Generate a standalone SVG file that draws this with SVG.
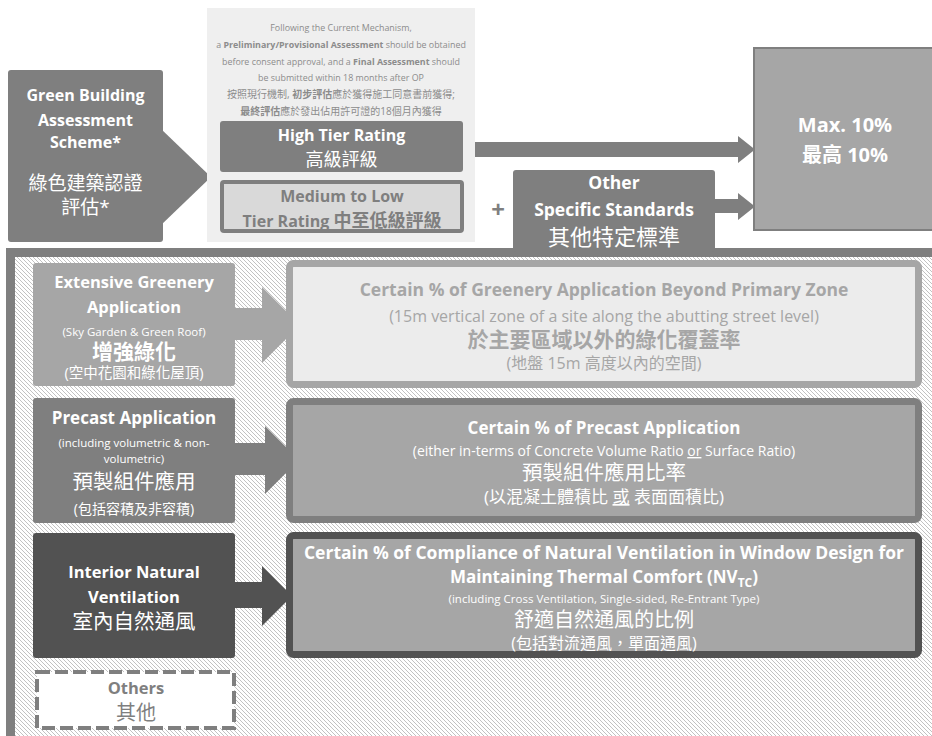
<svg xmlns="http://www.w3.org/2000/svg" width="932" height="736" viewBox="0 0 932 736">
<defs>
<pattern id="hatch" patternUnits="userSpaceOnUse" width="4" height="4">
<rect width="4" height="4" fill="#fff"/>
<path d="M-1,-1 L5,5 M-1,3 L1,5 M3,-1 L5,1" stroke="#c2c2c2" stroke-width="1"/>
</pattern>
<style>
text{font-family:"Open Sans","Noto Sans CJK TC",sans-serif;text-anchor:middle}
.b{font-weight:bold}
.w{fill:#fff}
.g{fill:#7f7f7f}
.lg{fill:#a6a6a6}
.n{fill:#8c8c8c}
.box{fill:#7f7f7f}
.dark{fill:#525252}
.light{fill:#a6a6a6}
</style>
</defs>
<rect width="932" height="736" fill="#fff"/>
<g id="frame">
<rect x="10.5" y="252.5" width="940" height="500" fill="url(#hatch)" stroke="#7f7f7f" stroke-width="9"/>
</g>
<g id="connectors">
<polygon class="box" points="160,128 211,177 160,226"/>
<polygon class="box" points="463,142 738,142 738,136 755,149.5 738,163 738,157 463,157"/>
<polygon class="box" points="712,199 738,199 738,193 755,206.5 738,220 738,213 712,213"/>
<rect class="light" x="232" y="308" width="34" height="32"/>
<polygon class="light" points="262,287 300,325 262,363"/>
<rect class="box" x="230" y="443" width="37" height="32"/>
<polygon class="box" points="265,426 299,460 265,494"/>
<rect class="dark" x="230" y="582" width="35" height="26"/>
<polygon class="dark" points="262,566 292,596 262,626"/>
</g>
<g id="note">
<rect x="207" y="8" width="268" height="234" fill="#efefef"/>
<text class="n" font-size="8.9"><tspan x="341" y="31">Following the Current Mechanism,</tspan><tspan x="341" y="47.5">a <tspan class="b">Preliminary/Provisional Assessment</tspan> should be obtained</tspan><tspan x="341" y="64.5">before consent approval, and a <tspan class="b">Final Assessment</tspan> should</tspan><tspan x="341" y="81">be submitted within 18 months after OP</tspan></text>
<text class="n" font-size="10"><tspan x="341" y="97.5">按照現行機制, <tspan class="b">初步評估</tspan>應於獲得施工同意書前獲得;</tspan><tspan x="341" y="115"><tspan class="b">最終評估</tspan>應於發出佔用許可證的18個月內獲得</tspan></text>
</g>
<g id="gbas">
<rect class="box" x="8" y="70" width="155" height="172" rx="3"/>
<text class="w b" font-size="16"><tspan x="85.5" y="101">Green Building</tspan><tspan x="85.5" y="126">Assessment</tspan><tspan x="85.5" y="148">Scheme*</tspan></text>
<text class="w" font-size="19"><tspan x="85.5" y="190">綠色建築認證</tspan><tspan x="85.5" y="214">評估*</tspan></text>
</g>
<g id="high-tier">
<rect class="box" x="220" y="121" width="243" height="51" rx="3"/>
<text class="w b" font-size="16" x="341.5" y="141">High Tier Rating</text>
<text class="w" font-size="18" x="341.5" y="166">高級評級</text>
</g>
<g id="medium-tier">
<rect x="222" y="182" width="240" height="49" rx="2" fill="#d9d9d9" stroke="#7f7f7f" stroke-width="4"/>
<text class="g b" font-size="16" x="342" y="202">Medium to Low</text>
<text class="g b" font-size="16" x="342" y="227">Tier Rating <tspan font-size="18">中至低級評級</tspan></text>
</g>
<g id="plus">
<text class="g b" font-size="24" x="498" y="218">+</text>
</g>
<g id="other-standards">
<rect class="box" x="513" y="170" width="202" height="82" rx="3"/>
<text class="w b" font-size="17.5"><tspan x="614" y="189">Other</tspan><tspan x="614" y="216">Specific Standards</tspan></text>
<text class="w" font-size="22" x="614" y="245">其他特定標準</text>
</g>
<g id="max">
<rect x="754" y="48" width="190" height="182" fill="#a6a6a6" stroke="#7f7f7f" stroke-width="2"/>
<text class="w b" font-size="20" x="845" y="132">Max. 10%</text>
<text class="w b" font-size="20" x="845" y="162">最高 10%</text>
</g>
<g id="greenery">
<rect class="light" x="33" y="263" width="202" height="123" rx="3"/>
<text class="w b" font-size="16.5"><tspan x="134" y="288">Extensive Greenery</tspan><tspan x="134" y="313">Application</tspan></text>
<text class="w" font-size="11.5" x="134" y="336">(Sky Garden &amp; Green Roof)</text>
<text class="w b" font-size="21" x="134" y="359">增強綠化</text>
<text class="w" font-size="14.5" x="134" y="378">(空中花園和綠化屋頂)</text>
</g>
<g id="greenery-std">
<rect x="289.5" y="263.5" width="629" height="121" rx="4" fill="#ececec" stroke="#a6a6a6" stroke-width="7"/>
<text class="lg b" font-size="17.5" x="604" y="296">Certain % of Greenery Application Beyond Primary Zone</text>
<text class="lg" font-size="16" x="604" y="322">(15m vertical zone of a site along the abutting street level)</text>
<text class="lg b" font-size="21" x="604" y="347">於主要區域以外的綠化覆蓋率</text>
<text class="lg" font-size="16" x="604" y="369">(地盤 15m 高度以內的空間)</text>
</g>
<g id="precast">
<rect class="box" x="33" y="398" width="202" height="125" rx="3"/>
<text class="w b" font-size="17" x="134" y="424">Precast Application</text>
<text class="w" font-size="11.5"><tspan x="134" y="447">(including volumetric &amp; non-</tspan><tspan x="134" y="463">volumetric)</tspan></text>
<text class="w" font-size="20.5" x="134" y="489">預製組件應用</text>
<text class="w" font-size="14" x="134" y="514">(包括容積及非容積)</text>
</g>
<g id="precast-std">
<rect x="289.5" y="401.5" width="629" height="118" rx="4" fill="#a6a6a6" stroke="#7f7f7f" stroke-width="7"/>
<text class="w b" font-size="17" x="604" y="434">Certain % of Precast Application</text>
<text class="w" font-size="14" x="604" y="456">(either in-terms of Concrete Volume Ratio <tspan text-decoration="underline">or</tspan> Surface Ratio)</text>
<text class="w" font-size="20.5" x="604" y="480">預製組件應用比率</text>
<text class="w" font-size="17" x="604" y="503">(以混凝土體積比 <tspan text-decoration="underline">或</tspan> 表面面積比)</text>
</g>
<g id="ventilation">
<rect class="dark" x="33" y="533" width="202" height="125" rx="3"/>
<text class="w b" font-size="16.5"><tspan x="134" y="578">Interior Natural</tspan><tspan x="134" y="603">Ventilation</tspan></text>
<text class="w" font-size="20.5" x="134" y="629">室內自然通風</text>
</g>
<g id="ventilation-std">
<rect x="289.5" y="535.5" width="629" height="119" rx="4" fill="#a6a6a6" stroke="#525252" stroke-width="7"/>
<text class="w b" font-size="17.5" x="604" y="559">Certain % of Compliance of Natural Ventilation in Window Design  for</text>
<text class="w b" font-size="17" x="604" y="583">Maintaining Thermal Comfort (NV<tspan font-size="12" dy="4">TC</tspan><tspan dy="-4">)</tspan></text>
<text class="w" font-size="11.5" x="604" y="603">(including Cross Ventilation, Single-sided, Re-Entrant Type)</text>
<text class="w" font-size="20" x="604" y="627">舒適自然通風的比例</text>
<text class="w" font-size="16" x="604" y="649">(包括對流通風，單面通風)</text>
</g>
<g id="others">
<rect x="37" y="672" width="197" height="56" fill="#fff" stroke="#7f7f7f" stroke-width="4" stroke-dasharray="13 5"/>
<text class="g b" font-size="16.5" x="136" y="694">Others</text>
<text class="g" font-size="20" x="136" y="720">其他</text>
</g>
</svg>
